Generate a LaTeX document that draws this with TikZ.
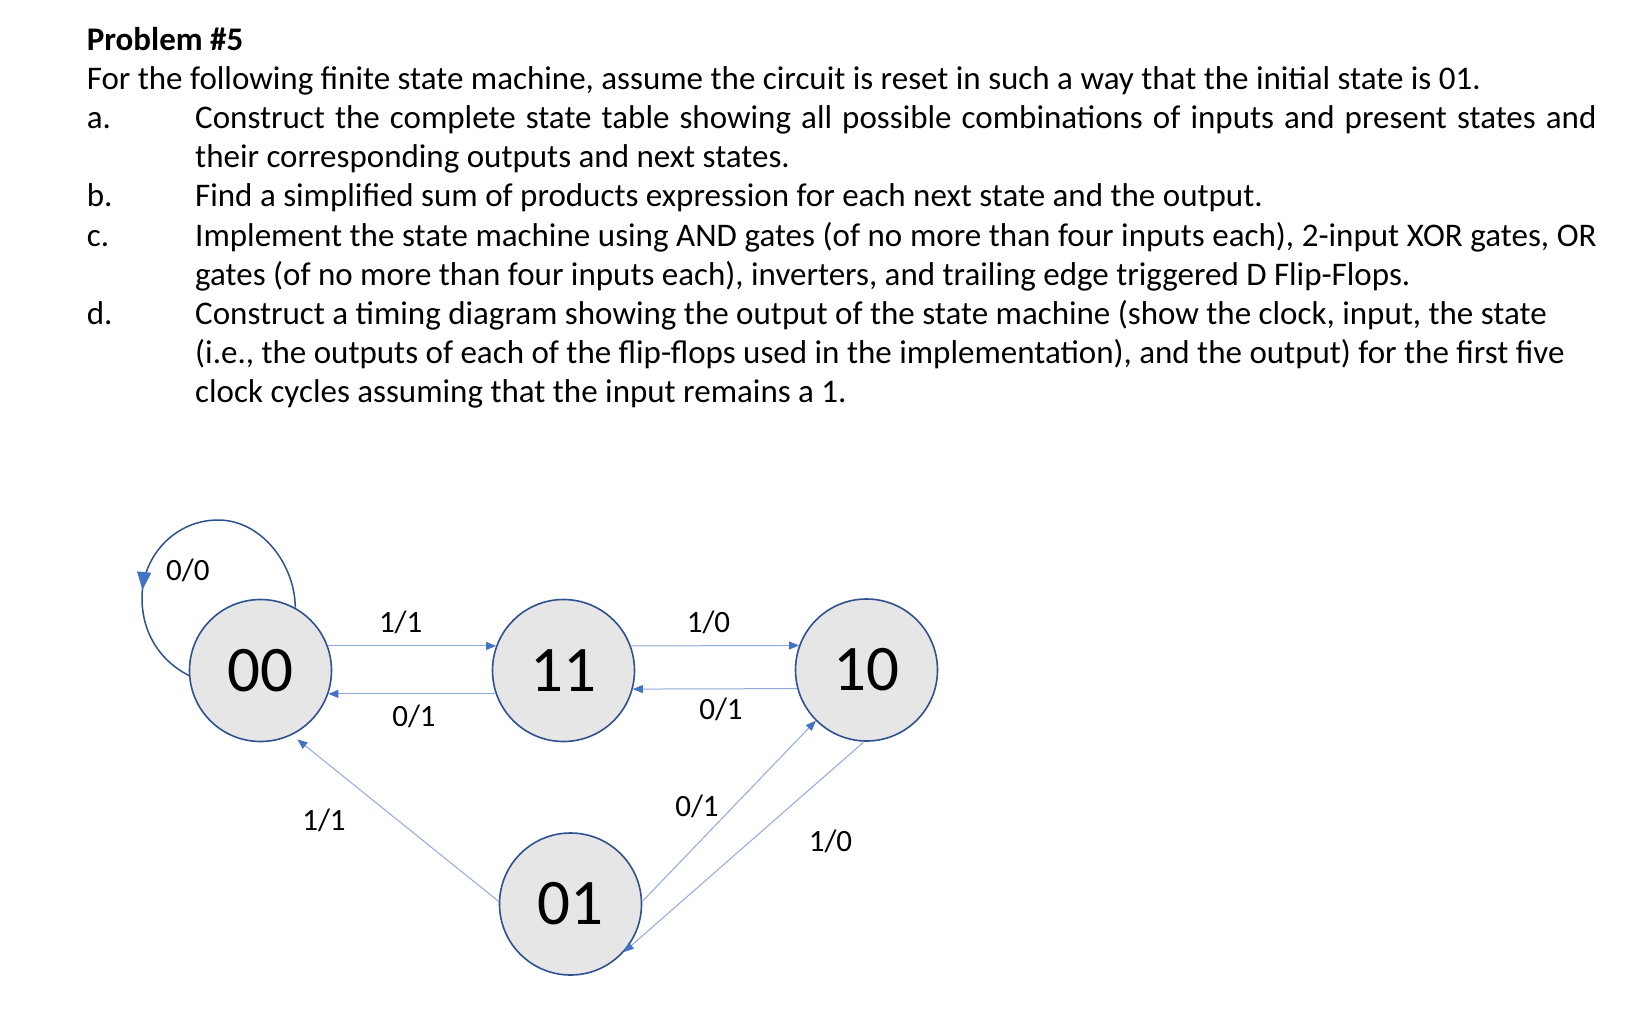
\documentclass[tikz,border=0pt]{standalone}
\usepackage{fontspec}
\setmainfont{Carlito}
\usetikzlibrary{arrows.meta,decorations.markings}
\definecolor{edgeblue}{HTML}{2F528F}
\definecolor{fillgray}{HTML}{E7E6E6}
\definecolor{linelight}{HTML}{8FAADC}
\definecolor{tipblue}{HTML}{4472C4}
\begin{document}
\begin{tikzpicture}[x=1pt,y=-1pt,
  body/.style={anchor=base west, inner sep=0pt, font=\fontsize{33}{39}\selectfont},
  titletext/.style={anchor=base west, inner sep=0pt, font=\bfseries\fontsize{33}{39}\selectfont},
  statenode/.style={circle, draw=edgeblue, line width=1.6pt, fill=fillgray, minimum size=142pt, inner sep=0pt, font=\fontsize{65}{70}\selectfont},
  conn/.style={draw=linelight, line width=1pt, -{Triangle[length=10pt,width=8pt,color=tipblue]}},
  loopline/.style={draw=edgeblue, line width=1.5pt,
    postaction={decorate, decoration={markings, mark=at position 0.70 with {\arrow{Triangle[length=18pt,width=14pt,color=tipblue]}}}}},
  lbl/.style={inner sep=0pt, font=\fontsize{31}{36}\selectfont},
  ]
\fill[white] (0,0) rectangle (1636,1020);
\useasboundingbox (0,0) rectangle (1636,1020);

% text
\node[titletext] (title) at (86.6,50.5) {Problem \#5};
\node[body] (intro) at (86.6,89.6) {For the following finite state machine, assume the circuit is reset in such a way that the initial state is 01.};
\node[body] (la) at (86.6,128.7) {a.};
\node[body] (ta1) at (195,128.7) {\makebox[1401.5pt][s]{Construct the complete state table showing all possible combinations of inputs and present states and}};
\node[body] (ta2) at (195,167.8) {their corresponding outputs and next states.};
\node[body] (lb) at (86.6,206.9) {b.};
\node[body] (tb1) at (195,206.9) {Find a simplified sum of products expression for each next state and the output.};
\node[body] (lc) at (86.6,246.0) {c.};
\node[body] (tc1) at (195,246.0) {\makebox[1401.5pt][s]{Implement the state machine using AND gates (of no more than four inputs each), 2-input XOR gates, OR}};
\node[body] (tc2) at (195,285.1) {gates (of no more than four inputs each), inverters, and trailing edge triggered D Flip-Flops.};
\node[body] (ld) at (86.6,324.2) {d.};
\node[body] (td1) at (195,324.2) {Construct a timing diagram showing the output of the state machine (show the clock, input, the state};
\node[body] (td2) at (195,363.3) {(i.e., the outputs of each of the flip-flops used in the implementation), and the output) for the first five};
\node[body] (td3) at (195,402.4) {clock cycles assuming that the input remains a 1.};

% states
\node[statenode] (n00) at (260.5,670.5) {00};
\node[statenode] (n11) at (563.5,670.5) {11};
\node[statenode] (n10) at (866.5,670) {10};
\node[statenode] (n01) at (570.5,904) {01};

% self loop on 00
\draw[loopline] (n00.61) .. controls (295,565) and (262,520) .. (218,520)
  .. controls (176,520) and (142,555) .. (142,598)
  .. controls (142,635) and (162,662) .. (n00.184);

% connectors
\draw[conn] (n00.20) -- (n11.160);
\draw[conn] (n11.199) -- (n00.-19);
\draw[conn] (n11.20) -- (n10.160);
\draw[conn] (n10.195) -- (n11.-15);
\draw[conn, shorten >=7pt] (n01.178) -- (n00.296);
\draw[conn] (n01.2) -- (n10.225);
\draw[conn] (n10.268) -- (n01.318);

% labels
\node[lbl] (l1) at (400.7,622) {1/1};
\node[lbl] (l2) at (414,716) {0/1};
\node[lbl] (l3) at (708.5,622) {1/0};
\node[lbl] (l4) at (721,709.5) {0/1};
\node[lbl] (l5) at (187.8,570) {0/0};
\node[lbl] (l6) at (324,820) {1/1};
\node[lbl] (l7) at (697,806.7) {0/1};
\node[lbl] (l8) at (830.5,841) {1/0};
\end{tikzpicture}
\end{document}
